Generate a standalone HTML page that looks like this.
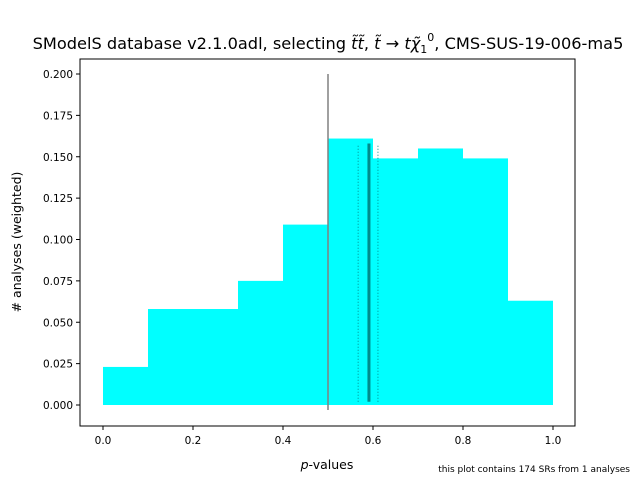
<!DOCTYPE html>
<html><head><meta charset="utf-8"><style>
body{margin:0;background:#fff;}
svg text{font-family:"DejaVu Sans","Liberation Sans",sans-serif;fill:#000;}
</style></head><body>
<svg id="chart" width="640" height="480" viewBox="0 0 640 480">
<rect width="640" height="480" fill="#fff"/>
<g id="bars"></g>
<g id="lines"></g>
<rect x="80" y="59" width="495" height="367" fill="none" stroke="#000" stroke-width="1"/>
<g id="xt"></g><g id="yt"></g>
<text x="328" y="49" font-size="16.2" text-anchor="middle">SModelS database v2.1.0adl, selecting <tspan font-style="italic">t̃t̃</tspan>, <tspan font-style="italic">t̃</tspan> → <tspan font-style="italic">tχ̃</tspan><tspan font-size="11" dy="4">1</tspan><tspan font-size="11" dy="-12">0</tspan><tspan dy="8">, CMS-SUS-19-006-ma5</tspan></text>
<text x="327" y="469" font-size="12.5" text-anchor="middle"><tspan font-style="italic">p</tspan>-values</text>
<text transform="translate(21,242) rotate(-90)" font-size="12.5" text-anchor="middle"># analyses (weighted)</text>
<text x="630" y="472" font-size="9" text-anchor="end">this plot contains 174 SRs from 1 analyses</text>
</svg>
<script>
const binEdges=[0,0.1,0.2,0.3,0.4,0.5,0.6,0.7,0.8,0.9,1.0];
const binValues=[0.023,0.058,0.058,0.075,0.109,0.161,0.149,0.155,0.149,0.063];
const xTicks=[0,0.2,0.4,0.6,0.8,1.0];
const xTickLabels=["0.0","0.2","0.4","0.6","0.8","1.0"];
const yTicks=[0,0.025,0.05,0.075,0.1,0.125,0.15,0.175,0.2];
const yTickLabels=["0.000","0.025","0.050","0.075","0.100","0.125","0.150","0.175","0.200"];
const refLine=[0.5,-0.003,0.2];
const meanLine=[0.591,0.002,0.158];
const errLines=[0.567,0.611];
const errTop=0.157;
const X=v=>103+v*450, Y=v=>405-v*1655;
const NS="http://www.w3.org/2000/svg";
function mk(t,a,p){const e=document.createElementNS(NS,t);for(const k in a)e.setAttribute(k,a[k]);p.appendChild(e);return e;}
const bars=document.getElementById('bars');
binValues.forEach((v,i)=>{const r=mk('rect',{x:X(binEdges[i]),y:Y(v),width:X(binEdges[i+1])-X(binEdges[i]),height:Y(0)-Y(v),fill:'#00ffff'},bars);

});
const L=document.getElementById('lines');
let g=mk('line',{x1:X(refLine[0]),x2:X(refLine[0]),y1:Y(refLine[1]),y2:Y(refLine[2]),stroke:'#808080','stroke-width':1.5},L);


errLines.forEach((x,i)=>{const e=mk('line',{x1:X(x),x2:X(x),y1:Y(meanLine[1]),y2:Y(errTop),stroke:'#008b8b','stroke-width':1,'stroke-dasharray':'1,2'},L);

});
g=mk('line',{x1:X(meanLine[0]),x2:X(meanLine[0]),y1:Y(meanLine[1]),y2:Y(meanLine[2]),stroke:'#008b8b','stroke-width':3},L);


const xt=document.getElementById('xt');
xTicks.forEach((v,i)=>{mk('line',{x1:X(v),x2:X(v),y1:426,y2:430,stroke:'#000'},xt);
const t=mk('text',{x:X(v),y:444,'font-size':10.5,'text-anchor':'middle'},xt);t.textContent=xTickLabels[i];

});
const yt=document.getElementById('yt');
yTicks.forEach((v,i)=>{mk('line',{x1:76,x2:80,y1:Y(v),y2:Y(v),stroke:'#000'},yt);
const t=mk('text',{x:73,y:Y(v)+4,'font-size':10.5,'text-anchor':'end'},yt);t.textContent=yTickLabels[i];

});
</script>
</body></html>
